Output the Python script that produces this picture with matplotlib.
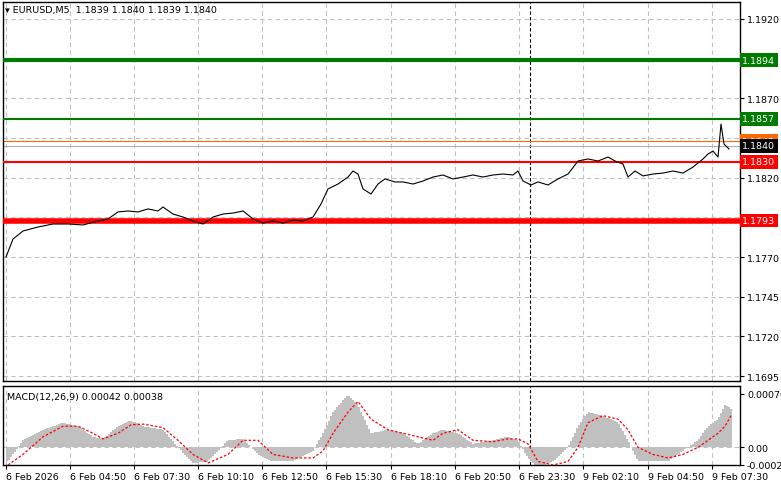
import matplotlib
matplotlib.use("Agg")
import matplotlib.pyplot as plt
import numpy as np

W, H = 781, 489
# bar positions (chart x units) and close prices
px = [3,10,20,35,50,65,80,95,105,115,125,135,145,155,160,170,180,190,200,210,220,230,240,250,260,270,280,290,300,310,318,325,335,345,350,355,360,368,375,382,392,400,410,420,430,440,450,460,470,480,490,500,510,515,520,528,535,545,555,565,575,585,595,605,612,620,625,632,640,650,660,670,680,690,700,705,710,715,718,721,726]
py = [258,240,232,228,225,225,226,222,220,213,212,213,210,212,208,215,218,222,225,218,215,214,212,220,224,222,224,221,222,218,205,190,185,178,172,175,190,195,185,180,183,183,185,182,178,176,180,178,176,178,176,175,176,172,182,186,183,186,180,175,162,160,162,158,162,165,178,172,177,175,174,172,174,168,160,155,152,158,125,145,150]
price = [round(1.1920 - (y - 20) / 15867, 5) for y in py]

mx = [5,20,40,60,75,90,100,115,128,140,160,175,190,205,225,240,255,270,290,310,320,330,345,355,368,385,400,415,430,440,455,470,490,505,515,525,535,550,565,575,585,600,615,625,635,650,665,680,695,705,715,722,728]
hist = [-0.0002,0.0001,0.00025,0.00035,0.0003,0.00015,0.00012,0.0003,0.00038,0.0003,0.00025,0.0,-0.00022,-0.0002,0.0001,0.00012,-0.0001,-0.0002,-0.0002,-0.00005,0.0002,0.0005,0.00075,0.0006,0.0002,0.00025,0.0002,0.00005,0.0002,0.00025,0.0002,0.00005,0.0001,0.00015,0.0001,-0.00015,-0.0003,-0.0002,0.0,0.0003,0.0005,0.00045,0.00035,0.0001,-0.0002,-0.0002,-0.0002,-0.00005,0.0001,0.0003,0.0004,0.0006,0.00055]
signal = [-0.00025,-0.0001,0.00015,0.0003,0.0003,0.0002,0.00012,0.0002,0.00032,0.00033,0.00028,0.0001,-0.0001,-0.00022,-0.0001,0.0001,0.0001,-0.0001,-0.00015,-0.00015,-0.00005,0.0002,0.0005,0.00065,0.0004,0.00025,0.0002,0.00015,0.0001,0.0002,0.00025,0.0001,0.00008,0.00012,0.00012,0.00005,-0.0002,-0.00025,-0.0002,0.0,0.00035,0.00045,0.0004,0.00025,0.0,-0.0001,-0.00015,-0.0001,0.0,0.0001,0.0002,0.0003,0.00045]

tick_x = [3,67,131,195,259,323,388,452,516,580,645,709]
tick_labels = ["6 Feb 2026","6 Feb 04:50","6 Feb 07:30","6 Feb 10:10","6 Feb 12:50","6 Feb 15:30","6 Feb 18:10","6 Feb 20:50","6 Feb 23:30","9 Feb 02:10","9 Feb 04:50","9 Feb 07:30"]
levels = [1.1894, 1.1857, 1.1830, 1.1793]
level_colors = ["#007a00", "#007a00", "#ff0000", "#ff0000"]
level_widths = [3, 1.5, 1.5, 4]
yticks = [1.1920, 1.1895, 1.1870, 1.1845, 1.1820, 1.1795, 1.1770, 1.1745, 1.1720, 1.1695]
shown_yticks = [1.1920, 1.1870, 1.1820, 1.1770, 1.1745, 1.1720, 1.1695]

FS = 6.8
fig = plt.figure(figsize=(W/100, H/100), dpi=100)
L, R = 3/W, 740/W
ax = fig.add_axes([L, (489-382)/H, R-L, 379/H])
ax2 = fig.add_axes([L, (489-466)/H, R-L, 79/H])
for a in (ax, ax2):
    a.set_xlim(0, 737)
    for s in a.spines.values():
        s.set_color("black"); s.set_linewidth(1)
    a.tick_params(left=False, labelleft=False, bottom=False, labelbottom=False,
                  right=True, labelright=True, direction="out", length=3, labelsize=FS, pad=2)
    for t in tick_x:
        a.axvline(t, color="#c0c0c0", ls=(0, (4, 3)), lw=0.8, zorder=0)
    a.axvline(527, color="black", ls=(0, (3, 2)), lw=0.8, zorder=1)

ylo, yhi = 1.1920 - 362/15867, 1.1920 + 17/15867
ax.set_ylim(ylo, yhi)
ax.set_yticks(yticks)
ax.set_yticklabels([f"{v:.4f}" if v in shown_yticks else "" for v in yticks])
for v in yticks:
    ax.axhline(v, color="#c0c0c0", ls=(0, (4, 3)), lw=0.8, zorder=0)
ax.axhline(1.1843, color="#ff6a00", lw=0.8)
ax.axhline(1.1840, color="#b0b0b0", lw=0.8)
for v, c, w in zip(levels, level_colors, level_widths):
    ax.axhline(v, color=c, lw=w, zorder=3)
ax.plot(px, price, color="black", lw=0.8, zorder=4)
lab_tr = ax.get_yaxis_transform()
def tag(v, fc, tc="white"):
    ax.text(1.003, v, f"{v:.4f}", transform=lab_tr, fontsize=FS, color=tc, va="center", ha="left",
            bbox=dict(boxstyle="square,pad=0.25", fc=fc, ec="none"), clip_on=False)
tag(1.1843, "#ff6a00")
tag(1.1840, "black")
for v, c in zip(levels, level_colors):
    tag(v, c)
ax.text(0.003, 0.992, "▾ EURUSD,M5  1.1839 1.1840 1.1839 1.1840", transform=ax.transAxes,
        fontsize=FS, va="top", ha="left")

ax2.set_ylim(-0.00024, 0.00087)
ax2.set_yticks([0.00076, 0.0, -0.00025])
ax2.set_yticklabels(["0.00076", "0.00", "-0.00025"])
ax2.axhline(0, color="#c0c0c0", ls=(0, (4, 3)), lw=0.8, zorder=0)
bx = np.arange(4, 730, 2)
bh = np.interp(bx, mx, hist)
ax2.bar(bx, bh, width=2, color="#c0c0c0", zorder=2)
ax2.plot(mx, signal, color="red", lw=0.9, ls=(0, (2, 1.5)), zorder=3)
ax2.text(0.005, 0.93, "MACD(12,26,9) 0.00042 0.00038", transform=ax2.transAxes, fontsize=FS, va="top")
ax2.set_xticks(tick_x)
ax2.set_xticklabels(tick_labels)
ax2.tick_params(bottom=True, labelbottom=True, length=3)
for t in ax2.get_xticklabels():
    t.set_ha("left")
fig.savefig("out.png", dpi=100, facecolor="white")
